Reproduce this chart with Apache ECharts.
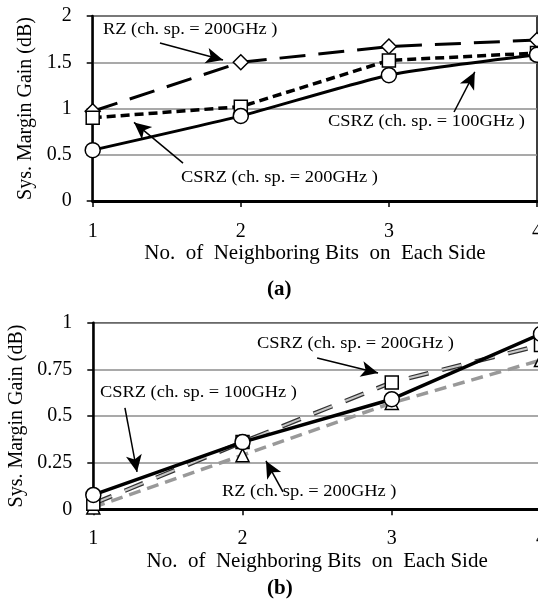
<!DOCTYPE html>
<html>
<head>
<meta charset="utf-8">
<script src="https://cdn.jsdelivr.net/npm/echarts@6/dist/echarts.min.js"></script>
<style>
html,body{margin:0;padding:0;background:#fff;overflow:hidden;}
#c{width:538px;height:603px;}
</style>
</head>
<body>
<div id="c"></div>
<script>
// ---- data ----
const xValues = [1, 2, 3, 4];
const xTicks = ['1', '2', '3', '4'];
// (a)
const aRZ200 = [0.97, 1.50, 1.67, 1.74];
const aCSRZ200 = [0.90, 1.02, 1.52, 1.60];
const aCSRZ100 = [0.55, 0.92, 1.36, 1.58];
// (b)
const bRZ200 = [0.01, 0.29, 0.57, 0.80];
const bCSRZ200 = [0.03, 0.36, 0.68, 0.88];
const bCSRZ100 = [0.077, 0.36, 0.59, 0.94];

const yTicksA = [0, 0.5, 1, 1.5, 2];
const yTicksB = [0, 0.25, 0.5, 0.75, 1];

const labRZ = 'RZ (ch. sp. = 200GHz )';
const labC200 = 'CSRZ (ch. sp. = 200GHz )';
const labC100 = 'CSRZ (ch. sp. = 100GHz )';
const xName = 'No.  of  Neighboring Bits  on  Each Side';
const yName = 'Sys. Margin Gain (dB)';

// annotation arrows in data coordinates [from, to]
const arrowsA = [
  [[1.454, 1.708], [1.88, 1.524]],
  [[3.44, 0.962], [3.58, 1.395]],
  [[1.61, 0.41], [1.279, 0.85]]
];
const arrowsB = [
  [[2.50, 0.811], [2.908, 0.730]],
  [[1.212, 0.543], [1.293, 0.20]],
  [[2.271, 0.093], [2.157, 0.259]]
];

const pts = arr => arr.map((v, i) => [xValues[i], v]);

const FONT = '"Liberation Serif", "Times New Roman", serif';
const chart = echarts.init(document.getElementById('c'), null, {renderer: 'canvas'});

function xAxisMain(gi, margin, gap) {
  return {
    type: 'value', gridIndex: gi, min: xValues[0], max: xValues[xValues.length - 1], interval: 1,
    name: xName, nameLocation: 'middle', nameGap: gap,
    nameTextStyle: {fontFamily: FONT, fontSize: 21, color: '#000'},
    axisLine: {show: true, onZero: false, lineStyle: {color: '#000', width: 3}},
    axisTick: {show: true, length: 6, lineStyle: {color: '#000', width: 1.5}},
    axisLabel: {margin: margin, fontFamily: FONT, fontSize: 20, color: '#000',
      formatter: v => xTicks[xValues.indexOf(v)] || ''},
    splitLine: {show: false}
  };
}
function xAxisTick(gi) {
  return {
    type: 'value', gridIndex: gi, min: xValues[0], max: xValues[xValues.length - 1], interval: 1,
    axisLine: {show: false},
    axisTick: {show: true, inside: true, length: 6, lineStyle: {color: '#000', width: 1.5}},
    axisLabel: {show: false}, splitLine: {show: false}
  };
}
function yAxis(gi, ticks, gap) {
  return {
    type: 'value', gridIndex: gi, min: ticks[0], max: ticks[ticks.length - 1],
    interval: ticks[1] - ticks[0],
    name: yName, nameLocation: 'middle', nameGap: gap,
    nameTextStyle: {fontFamily: FONT, fontSize: 20, color: '#000'},
    axisLine: {show: true, lineStyle: {color: '#000', width: 2.5}},
    axisTick: {show: true, length: 6, lineStyle: {color: '#000', width: 1.5}},
    axisLabel: {margin: 21, fontFamily: FONT, fontSize: 20, color: '#000'},
    splitLine: {show: true, lineStyle: {color: '#8c8c8c', width: 1.5}}
  };
}
function markArrows(list) {
  return {
    silent: true, animation: false,
    symbol: ['none', 'arrow'], symbolSize: [12, 17],
    lineStyle: {color: '#000', width: 1.5, type: 'solid'},
    label: {show: false},
    data: list.map(a => [{coord: a[0]}, {coord: a[1]}])
  };
}
const marker = {color: '#fff', borderColor: '#000', borderWidth: 1.5};

function text(str, x, y, size, sx, bold) {
  return {
    type: 'text', x: x, y: y, scaleX: sx, z: 50,
    style: {text: str, fontFamily: FONT, fontSize: size, fontWeight: bold ? 'bold' : 'normal',
      fill: '#000', textAlign: 'left', textVerticalAlign: 'middle'}
  };
}

const option = {
  animation: false,
  backgroundColor: '#fff',
  grid: [
    {left: 92.7, top: 16, width: 444.3, height: 185, show: true, borderColor: '#000', borderWidth: 1.5,
      backgroundColor: 'transparent', containLabel: false, outerBoundsMode: 'none'},
    {left: 93.3, top: 322.7, width: 447.7, height: 186.6, show: true, borderColor: '#000', borderWidth: 1.5,
      backgroundColor: 'transparent', containLabel: false, outerBoundsMode: 'none'}
  ],
  xAxis: [xAxisMain(0, 21, 41), xAxisMain(1, 19, 42), xAxisTick(0), xAxisTick(1)],
  yAxis: [yAxis(0, yTicksA, 57), yAxis(1, yTicksB, 57)],
  series: [
    // (a)
    {type: 'line', xAxisIndex: 0, yAxisIndex: 0, data: pts(aRZ200),
      symbol: 'diamond', symbolSize: 15, itemStyle: marker,
      lineStyle: {color: '#000', width: 3, type: [26, 13]}, z: 3,
      markLine: markArrows(arrowsA)},
    {type: 'line', xAxisIndex: 0, yAxisIndex: 0, data: pts(aCSRZ200),
      symbol: 'rect', symbolSize: 13, itemStyle: marker,
      lineStyle: {color: '#000', width: 3.5, type: [9, 5]}, z: 4},
    {type: 'line', xAxisIndex: 0, yAxisIndex: 0, data: pts(aCSRZ100),
      symbol: 'circle', symbolSize: 15, itemStyle: marker, smooth: 0.2,
      lineStyle: {color: '#000', width: 3}, z: 5},
    // (b)
    {type: 'line', xAxisIndex: 1, yAxisIndex: 1, data: pts(bRZ200),
      symbol: 'triangle', symbolSize: 13, itemStyle: marker,
      lineStyle: {color: '#999', width: 3.5, type: [12, 7]}, z: 3,
      markLine: markArrows(arrowsB)},
    {type: 'line', xAxisIndex: 1, yAxisIndex: 1, data: pts(bCSRZ200),
      showSymbol: false, symbol: 'none',
      lineStyle: {color: '#333', width: 4.5, type: [20, 14]}, z: 4},
    {type: 'line', xAxisIndex: 1, yAxisIndex: 1, data: pts(bCSRZ200),
      symbol: 'rect', symbolSize: 13, itemStyle: marker,
      lineStyle: {color: '#c8c8c8', width: 2, type: [20, 14]}, z: 4},
    {type: 'line', xAxisIndex: 1, yAxisIndex: 1, data: pts(bCSRZ100),
      symbol: 'circle', symbolSize: 15, itemStyle: marker,
      lineStyle: {color: '#000', width: 3.5}, z: 5}
  ],
  graphic: [
    text(labRZ, 103, 30, 16, 1.15),
    text(labC100, 328, 122, 16, 1.15),
    text(labC200, 181, 178, 16, 1.15),
    text(labC200, 257, 344, 16, 1.15),
    text(labC100, 100, 393, 16, 1.15),
    text(labRZ, 222, 492, 16, 1.15),
    text('(a)', 267, 290, 21, 1, true),
    text('(b)', 267, 589, 21, 1, true)
  ]
};
chart.setOption(option);
</script>
</body>
</html>
